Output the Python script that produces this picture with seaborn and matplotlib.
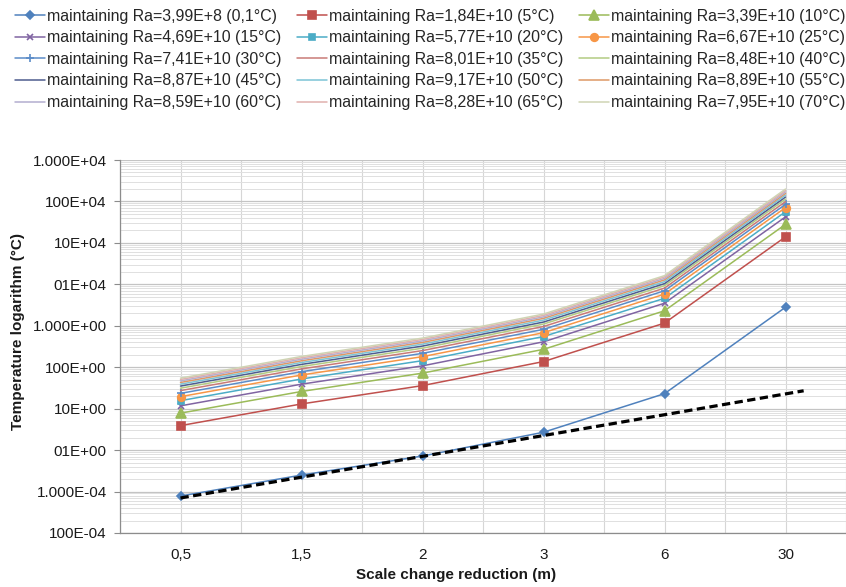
import numpy as np
import pandas as pd
import seaborn as sns
import matplotlib
matplotlib.use("Agg")
import matplotlib.pyplot as plt
from matplotlib.ticker import FixedLocator, FixedFormatter, NullFormatter, LogLocator

sns.set_theme(style="white")
plt.rcParams['font.family'] = ['Liberation Sans', 'DejaVu Sans']

# x categories (scale reduction, m)
categories = ["0,5", "1,5", "2", "3", "6", "30"]

# series (temperature, log scale)
s_01 = [7.8e-5, 2.5e-4, 7.2e-4, 2.7e-3, 0.023, 2.8]
s_05 = [3.9e-3, 0.013, 0.036, 0.137, 1.16, 140]
s_10 = [7.8e-3, 0.026, 0.072, 0.27, 2.3, 280]
s_15 = [0.0117, 0.039, 0.108, 0.41, 3.5, 425]
s_20 = [0.0156, 0.052, 0.144, 0.55, 4.6, 565]
s_25 = [0.0195, 0.065, 0.18, 0.68, 5.8, 710]
s_30 = [0.0234, 0.078, 0.216, 0.82, 7.0, 850]
s_35 = [0.0273, 0.091, 0.252, 0.96, 8.1, 990]
s_40 = [0.0312, 0.104, 0.288, 1.10, 9.3, 1135]
s_45 = [0.0351, 0.117, 0.324, 1.23, 10.4, 1275]
s_50 = [0.039, 0.13, 0.36, 1.37, 11.6, 1420]
s_55 = [0.0429, 0.143, 0.396, 1.51, 12.8, 1560]
s_60 = [0.0468, 0.156, 0.432, 1.64, 13.9, 1700]
s_65 = [0.0507, 0.169, 0.468, 1.78, 15.1, 1845]
s_70 = [0.0546, 0.182, 0.504, 1.92, 16.2, 1990]

series = [s_01, s_05, s_10, s_15, s_20, s_25, s_30, s_35,
          s_40, s_45, s_50, s_55, s_60, s_65, s_70]

names = [
    "maintaining Ra=3,99E+8 (0,1°C)", "maintaining Ra=1,84E+10 (5°C)",
    "maintaining Ra=3,39E+10 (10°C)", "maintaining Ra=4,69E+10 (15°C)",
    "maintaining Ra=5,77E+10 (20°C)", "maintaining Ra=6,67E+10 (25°C)",
    "maintaining Ra=7,41E+10 (30°C)", "maintaining Ra=8,01E+10 (35°C)",
    "maintaining Ra=8,48E+10 (40°C)", "maintaining Ra=8,87E+10 (45°C)",
    "maintaining Ra=9,17E+10 (50°C)", "maintaining Ra=8,89E+10 (55°C)",
    "maintaining Ra=8,59E+10 (60°C)", "maintaining Ra=8,28E+10 (65°C)",
    "maintaining Ra=7,95E+10 (70°C)",
]

# dashed trend line (category position, value)
trend_x = [0.0, 5.15]
trend_y = [7.0e-5, 0.027]

# y tick labels as printed on the original, top to bottom
ytick_labels = ["1.000E+04", "100E+04", "10E+04", "01E+04", "1.000E+00",
                "100E+00", "10E+00", "01E+00", "1.000E-04", "100E-04"]

colors = ['#4F81BD', '#C0504D', '#9BBB59', '#8064A2', '#4BACC6', '#F79646',
          '#5B8CC8', '#C97A77', '#B3CB83', '#4E5C8E', '#7CC4D6', '#DE9866',
          '#B3AED0', '#E0B0AE', '#CFD4B4']
markers = ['D', 's', '^', 'x', 's', 'o', '+'] + [None] * 8
msizes = [4, 6, 6.5, 5, 4, 5.5, 6] + [0] * 8

fig = plt.figure(figsize=(8.46, 5.87), dpi=100)
ax = fig.add_axes([120 / 846, 1 - 533 / 587, 1 - 120 / 846, (533 - 160) / 587])

idx = np.arange(len(categories))
handles = []
for vals, name, c, m, ms in zip(series, names, colors, markers, msizes):
    sns.lineplot(x=idx, y=vals, ax=ax, color=c, marker=m, markersize=ms,
                 markeredgecolor=c, markerfacecolor=c, markeredgewidth=1.2,
                 linewidth=1.1, label=name, legend=False)
    handles.append(ax.lines[-1])

sns.lineplot(x=trend_x, y=trend_y, ax=ax, color='black', linewidth=2.3, legend=False)
ax.lines[-1].set_dashes((2.6, 1.4))

ax.set_yscale('log')
ax.set_ylim(1e-5, 1e4)
ax.set_xlim(-0.5, 5.5)

yt = [10.0 ** k for k in range(4, -6, -1)]
ax.yaxis.set_major_locator(FixedLocator(yt))
ax.yaxis.set_major_formatter(FixedFormatter(ytick_labels))
ax.yaxis.set_minor_locator(LogLocator(base=10, subs=np.arange(2, 10), numticks=30))
ax.yaxis.set_minor_formatter(NullFormatter())

ax.set_xticks(idx)
ax.set_xticklabels(categories)
ax.xaxis.set_minor_locator(FixedLocator(np.arange(-0.5, 5.6, 1.0)))

ax.grid(which='major', axis='y', color='#C4C4C4', linewidth=0.9)
ax.grid(which='minor', axis='y', color='#E0E0E0', linewidth=0.7)
ax.grid(which='both', axis='x', color='#D6D6D6', linewidth=0.8)
ax.set_axisbelow(True)

ax.tick_params(axis='y', which='major', length=4, width=0.8, color='#8C8C8C',
               direction='out', left=True, pad=5.5, labelsize=11, labelcolor='#1a1a1a')
ax.tick_params(axis='y', which='minor', length=0)
ax.tick_params(axis='x', which='both', length=0, pad=11, labelsize=11, labelcolor='#1a1a1a')

for side in ['top', 'right']:
    ax.spines[side].set_visible(False)
for side in ['left', 'bottom']:
    ax.spines[side].set_color('#8C8C8C')
    ax.spines[side].set_linewidth(0.9)

ax.set_xlabel("")
ax.set_ylabel("")
fig.text(456 / 846, 1 - 575 / 587, "Scale change reduction (m)", ha='center', va='center',
         fontsize=11, fontweight='bold', color='#1a1a1a')
fig.text(18 / 846, 1 - 332 / 587, "Temperature logarithm (°C)", ha='center', va='center',
         rotation=90, fontsize=11, fontweight='bold', color='#1a1a1a')

# legend laid out row-wise in 3 columns, like the original
order = [0, 3, 6, 9, 12, 1, 4, 7, 10, 13, 2, 5, 8, 11, 14]
fig.legend([handles[i] for i in order], [names[i] for i in order],
           ncol=3, loc='upper left', bbox_to_anchor=(15 / 846, 1 - 8.5 / 587),
           frameon=False, fontsize=11.4, handlelength=1.9, handletextpad=0.15,
           columnspacing=0.95, labelspacing=0.42, borderpad=0, borderaxespad=0)

fig.savefig("out.png", dpi=100, facecolor='white')
